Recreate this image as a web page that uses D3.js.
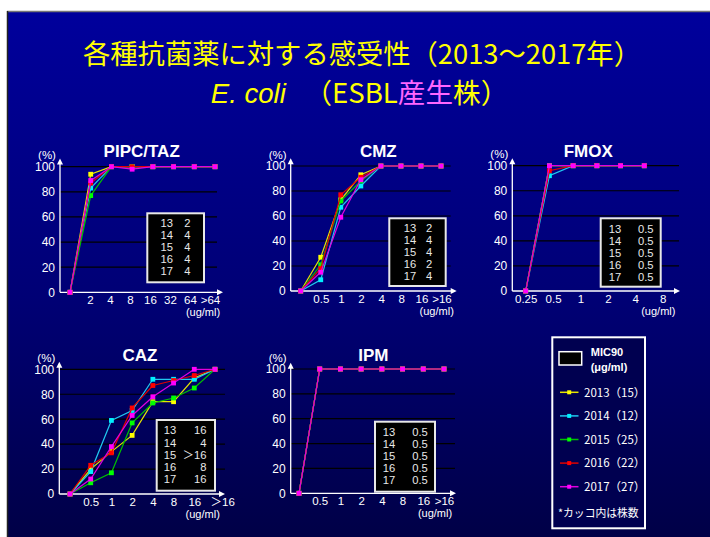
<!DOCTYPE html>
<html><head><meta charset="utf-8">
<script src="https://cdn.jsdelivr.net/npm/d3@7/dist/d3.min.js"></script>
<style>html,body{margin:0;padding:0;background:#fff;overflow:hidden}svg{display:block}</style>
</head><body>
<svg id="c" width="710" height="537"></svg>
<script>
// ---------------- DATA ----------------
const years = ["2013", "2014", "2015", "2016", "2017"];
const strainCounts = ["15", "12", "25", "22", "27"];
const micYears = ["13", "14", "15", "16", "17"];

const pipcCats  = ["0", "2", "4", "8", "16", "32", "64", ">64"];
const pipcTicks = ["", "2", "4", "8", "16", "32", "64", ">64"];
const pipcVals = [
  [0, 94, 100, 100, 100, 100, 100, 100],
  [0, 83, 100, 100, 100, 100, 100, 100],
  [0, 77, 100, 100, 100, 100, 100, 100],
  [0, 87, 100, 100, 100, 100, 100, 100],
  [0, 89, 100, 98, 100, 100, 100, 100]
];
const pipcMic = ["2", "4", "4", "4", "4"];

const cmzCats  = ["0", "0.5", "1", "2", "4", "8", "16", ">16"];
const cmzTicks = ["", "0.5", "1", "2", "4", "8", "16", ">16"];
const cmzVals = [
  [0, 27, 73, 93, 100, 100, 100, 100],
  [0, 9, 67, 84, 100, 100, 100, 100],
  [0, 21, 72, 88, 100, 100, 100, 100],
  [0, 18, 77, 91, 100, 100, 100, 100],
  [0, 15, 59, 89, 100, 100, 100, 100]
];
const cmzMic = ["2", "4", "4", "2", "4"];

const fmoxCats  = ["0.25", "0.5", "1", "2", "4", "8"];
const fmoxTicks = ["0.25", "0.5", "1", "2", "4", "8"];
const fmoxVals = [
  [0, 100, 100, 100, 100, 100],
  [0, 92, 100, 100, 100, 100],
  [0, 100, 100, 100, 100, 100],
  [0, 96, 100, 100, 100, 100],
  [0, 100, 100, 100, 100, 100]
];
const fmoxMic = ["0.5", "0.5", "0.5", "0.5", "0.5"];

const cazCats  = ["0", "0.5", "1", "2", "4", "8", "16", "＞16"];
const cazTicks = ["", "0.5", "1", "2", "4", "8", "16", "＞16"];
const cazVals = [
  [0, 20, 34, 47, 74, 74, 93, 100],
  [0, 18, 59, 67, 92, 92, 92, 100],
  [0, 9, 17, 57, 73, 77, 85, 100],
  [0, 23, 33, 69, 87, 91, 95, 100],
  [0, 12, 38, 63, 78, 89, 100, 100]
];
const cazMic = ["16", "4", "＞16", "8", "16"];

const ipmCats  = ["0", "0.5", "1", "2", "4", "8", "16", ">16"];
const ipmTicks = ["", "0.5", "1", "2", "4", "8", "16", ">16"];
const ipmVals = [
  [0, 100, 100, 100, 100, 100, 100, 100],
  [0, 100, 100, 100, 100, 100, 100, 100],
  [0, 100, 100, 100, 100, 100, 100, 100],
  [0, 100, 100, 100, 100, 100, 100, 100],
  [0, 100, 100, 100, 100, 100, 100, 100]
];
const ipmMic = ["0.5", "0.5", "0.5", "0.5", "0.5"];

const yTicks = [0, 20, 40, 60, 80, 100];

// ---------------- STYLE / LAYOUT ----------------
const lineColors   = ["#e6e600", "#20c8f0", "#00c000", "#e00000", "#e000e0"];
const markerColors = ["#ffff00", "#00f0ff", "#00ff00", "#ff0000", "#ff00ff"];
const LATIN = "'Liberation Sans', Arial, 'Noto Sans CJK JP', sans-serif";
const CJK = "'Noto Sans CJK JP', sans-serif";

const panels = [
  {name:"PIPC/TAZ", cats:pipcCats, ticks:pipcTicks, vals:pipcVals, mic:pipcMic,
   ax:60, y0:292.3, y100:166.7, yTip:158.5, xEnd:223, gridEnd:217,
   p:[70,215], l:[70,210], tx:141.7, ty:156.7, unitX:203,
   box:[147.3,213.3,204,282.3], c1:166.7, c2:187.3, c2a:"middle", r0:227, rs:12.1},
  {name:"CMZ", cats:cmzCats, ticks:cmzTicks, vals:cmzVals, mic:cmzMic,
   ax:290.7, y0:291, y100:166, yTip:158.3, xEnd:456.7, gridEnd:450.7,
   p:[300.7,441], l:[300.7,441.5], tx:378.3, ty:156.7, unitX:436.7,
   box:[389.3,218.3,445.7,286], c1:410, c2:429, c2a:"middle", r0:232, rs:12},
  {name:"FMOX", cats:fmoxCats, ticks:fmoxTicks, vals:fmoxVals, mic:fmoxMic,
   ax:512.3, y0:291, y100:165.7, yTip:158.3, xEnd:680, gridEnd:679,
   p:[525.7,644.3], l:[525.7,662.7], tx:588.3, ty:156.7, unitX:658.3,
   box:[600.7,218.3,660.7,286.7], c1:615, c2:645.7, c2a:"middle", r0:232.7, rs:12},
  {name:"CAZ", cats:cazCats, ticks:cazTicks, vals:cazVals, mic:cazMic,
   ax:59.3, y0:494, y100:369.3, yTip:361.7, xEnd:225, gridEnd:225,
   p:[70,215], l:[70,215], tx:140, ty:360.7, unitX:202.7,
   box:[156.7,420,215,490.7], c1:170, c2:206.5, c2a:"end", r0:434.3, rs:12.2},
  {name:"IPM", cats:ipmCats, ticks:ipmTicks, vals:ipmVals, mic:ipmMic,
   ax:290.7, y0:493.3, y100:369, yTip:362.7, xEnd:456, gridEnd:455,
   p:[299,444], l:[299,444], tx:373.3, ty:360.7, unitX:435,
   box:[375,421.7,435,491.7], c1:389, c2:420, c2a:"middle", r0:435.7, rs:12}
];

const svg = d3.select("#c");
const defs = svg.append("defs");
const grad = defs.append("linearGradient").attr("id","bg").attr("x1",0).attr("y1",0).attr("x2",0).attr("y2",1);
grad.append("stop").attr("offset","0%").attr("stop-color","#00009c");
grad.append("stop").attr("offset","55%").attr("stop-color","#000074");
grad.append("stop").attr("offset","100%").attr("stop-color","#000046");

// slide
svg.append("rect").attr("x",0).attr("y",0).attr("width",710).attr("height",537).attr("fill","#fff");
svg.append("rect").attr("x",7).attr("y",11).attr("width",705).attr("height",530).attr("fill","url(#bg)");
svg.append("line").attr("x1",7).attr("x2",710).attr("y1",11.5).attr("y2",11.5).attr("stroke","#777").attr("stroke-width",1.5);
svg.append("line").attr("x1",7.5).attr("x2",7.5).attr("y1",11).attr("y2",537).attr("stroke","#222").attr("stroke-width",1.5);

// titles
svg.append("text").attr("x",362).attr("y",64).attr("text-anchor","middle")
  .attr("font-family",CJK).attr("font-size",27.3).attr("fill","#ffff00")
  .text("各種抗菌薬に対する感受性（2013～2017年）");
const t2 = svg.append("text").attr("x",359.5).attr("y",102.5).attr("text-anchor","middle")
  .attr("font-family",CJK).attr("font-size",27.6).attr("fill","#ffff00");
t2.append("tspan").attr("font-family",LATIN).attr("font-style","italic").text("E. coli");
t2.append("tspan").text("\u00a0\u00a0\u00a0（ESBL");
t2.append("tspan").attr("fill","#ff66ff").text("産生");
t2.append("tspan").text("株）");

function drawPanel(P) {
  const g = svg.append("g");
  const y = d3.scaleLinear().domain([0,100]).range([P.y0, P.y100]);
  const x = d3.scalePoint().domain(P.cats).range(P.p);
  const xl = d3.scalePoint().domain(P.ticks).range(P.l);

  // gridlines
  g.selectAll("line.grid").data(yTicks.filter(d => d > 0)).join("line")
    .attr("x1", P.ax).attr("x2", P.gridEnd)
    .attr("y1", d => y(d)).attr("y2", d => y(d))
    .attr("stroke","#000").attr("stroke-width",1.2);

  // y axis labels
  const ya = g.append("g").attr("transform",`translate(${P.ax},0)`)
    .call(d3.axisLeft(y).tickValues(yTicks).tickSize(0).tickPadding(5));
  ya.select(".domain").remove();
  ya.selectAll("text").attr("fill","#fff").attr("font-family",LATIN).attr("font-size",12);

  // x axis labels
  const xa = g.append("g").attr("transform",`translate(0,${P.y0})`)
    .call(d3.axisBottom(xl).tickSize(0).tickPadding(3.5));
  xa.select(".domain").remove();
  xa.selectAll("text").attr("fill","#fff").attr("font-family",LATIN).attr("font-size",11.5)
    .each(function(d){ if (d.startsWith("＞")) d3.select(this).attr("text-anchor","start").attr("x",-5); });

  // axis lines with arrows
  g.append("line").attr("x1",P.ax).attr("x2",P.ax).attr("y1",P.y0).attr("y2",P.yTip+3)
    .attr("stroke","#fff").attr("stroke-width",1.3);
  g.append("path").attr("d",`M${P.ax},${P.yTip} L${P.ax-3},${P.yTip+6} L${P.ax+3},${P.yTip+6}Z`).attr("fill","#fff");
  g.append("line").attr("x1",P.ax).attr("x2",P.xEnd-3).attr("y1",P.y0).attr("y2",P.y0)
    .attr("stroke","#fff").attr("stroke-width",1.3);
  g.append("path").attr("d",`M${P.xEnd},${P.y0} L${P.xEnd-6},${P.y0-3} L${P.xEnd-6},${P.y0+3}Z`).attr("fill","#fff");

  // labels
  g.append("text").attr("x",P.ax-13).attr("y",P.y100-7.5).attr("text-anchor","middle")
    .attr("fill","#fff").attr("font-family",LATIN).attr("font-size",11.5).text("(%)");
  g.append("text").attr("x",P.unitX).attr("y",P.y0+23.5).attr("text-anchor","middle")
    .attr("fill","#fff").attr("font-family",LATIN).attr("font-size",11).text("(ug/ml)");
  g.append("text").attr("x",P.tx).attr("y",P.ty).attr("text-anchor","middle")
    .attr("fill","#fff").attr("font-family",LATIN).attr("font-weight","bold").attr("font-size",17).text(P.name);

  // series
  const line = d3.line().x((d,i) => x(P.cats[i])).y(d => y(d));
  P.vals.forEach((vals, s) => {
    g.append("path").attr("d", line(vals)).attr("fill","none")
      .attr("stroke", lineColors[s]).attr("stroke-width",1.2);
    g.selectAll(null).data(vals).join("rect")
      .attr("x",(d,i) => x(P.cats[i]) - 2.4).attr("y", d => y(d) - 2.4)
      .attr("width",4.8).attr("height",4.8).attr("fill", markerColors[s]);
  });

  // MIC90 box
  const b = P.box;
  g.append("rect").attr("x",b[0]).attr("y",b[1]).attr("width",b[2]-b[0]).attr("height",b[3]-b[1])
    .attr("fill","#000").attr("stroke","#e8e8e8").attr("stroke-width",2);
  micYears.forEach((yr, i) => {
    g.append("text").attr("x",P.c1).attr("y",P.r0 + i*P.rs).attr("text-anchor","middle")
      .attr("fill","#e8e8e8").attr("font-family",LATIN).attr("font-size",11.2).text(yr);
    g.append("text").attr("x",P.c2).attr("y",P.r0 + i*P.rs).attr("text-anchor",P.c2a)
      .attr("fill","#e8e8e8").attr("font-family",LATIN)
      .attr("font-size",11.2).text(P.mic[i]);
  });
}
panels.forEach(drawPanel);

// legend
const lg = svg.append("g");
lg.append("rect").attr("x",552.3).attr("y",337.3).attr("width",92.7).attr("height",191)
  .attr("fill","#000050").attr("stroke","#fff").attr("stroke-width",2);
lg.append("rect").attr("x",559).attr("y",351.7).attr("width",22.7).attr("height",13.3)
  .attr("fill","#000").attr("stroke","#fff").attr("stroke-width",1.5);
lg.append("text").attr("x",607).attr("y",355.5).attr("text-anchor","middle").attr("fill","#fff")
  .attr("font-family",LATIN).attr("font-weight","bold").attr("font-size",11).text("MIC90");
lg.append("text").attr("x",609).attr("y",371).attr("text-anchor","middle").attr("fill","#fff")
  .attr("font-family",LATIN).attr("font-weight","bold").attr("font-size",11).text("(μg/ml)");
const ly = d3.scalePoint().domain(years).range([392.3, 486.7]);
years.forEach((yr, i) => {
  const yy = ly(yr);
  lg.append("line").attr("x1",560).attr("x2",578.5).attr("y1",yy).attr("y2",yy)
    .attr("stroke",lineColors[i]).attr("stroke-width",1.5);
  lg.append("rect").attr("x",569.2-2).attr("y",yy-2).attr("width",4).attr("height",4).attr("fill",markerColors[i]);
  lg.append("text").attr("x",584).attr("y",yy+4.2).attr("fill","#fff")
    .attr("font-family",CJK).attr("font-size",11.5).text(`${yr}（${strainCounts[i]}）`);
});
lg.append("text").attr("x",558).attr("y",517).attr("fill","#fff")
  .attr("font-family",CJK).attr("font-size",10.8).text("*カッコ内は株数");
</script>
</body></html>
